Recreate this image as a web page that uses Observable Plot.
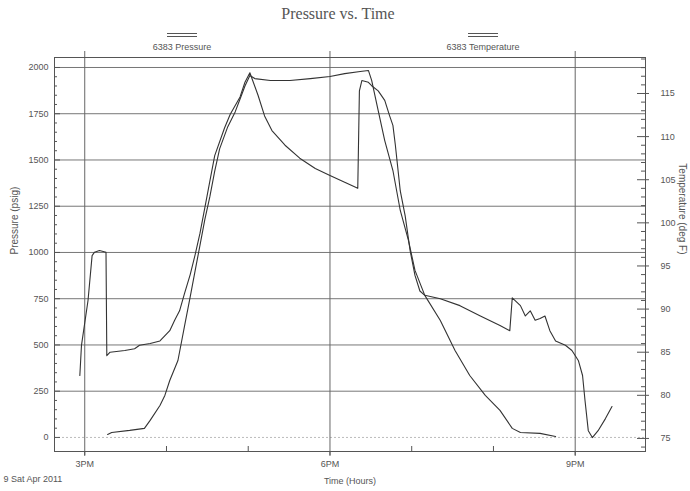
<!DOCTYPE html>
<html><head><meta charset="utf-8">
<script src="https://cdn.jsdelivr.net/npm/d3@7"></script>
<script src="https://cdn.jsdelivr.net/npm/@observablehq/plot@0.6"></script>
<style>
body{margin:0;background:#fff;font-family:"Liberation Sans",Arial,sans-serif;}
#wrap{position:relative;width:690px;height:491px;overflow:hidden;background:#fff}
#head{position:relative;height:52px}
.title{position:absolute;left:0;width:676px;top:5px;text-align:center;font-family:"Liberation Serif",serif;font-size:16px;color:#555;}
.leg{position:absolute;top:33px;font-size:9px;color:#555;text-align:center;width:120px;line-height:10px}
.sym{width:30px;height:2px;border-top:1px solid #555;border-bottom:1px solid #555;margin:0 auto 5px}
#chart svg{display:block}
</style></head>
<body><div id="wrap"><div id="head">
<div class="title">Pressure vs. Time</div>
<div class="leg" style="left:122px"><div class="sym"></div>6383 Pressure</div>
<div class="leg" style="left:423px"><div class="sym"></div>6383 Temperature</div>
</div><div id="chart"></div></div>
<script>
// Time in decimal hours of the day (15 = 3PM)
const presTime  = [15.28,15.33,15.55,15.73,15.80,15.92,15.98,16.04,16.14,16.22,16.29,16.35,16.41,16.47,16.53,16.59,16.65,16.75,16.84,16.90,16.96,17.02,17.08,17.27,17.51,17.76,18.00,18.18,18.37,18.47,18.51,18.59,18.67,18.77,18.86,18.96,19.04,19.16,19.35,19.53,19.71,19.90,20.08,20.23,20.33,20.57,20.76];
const presValue = [16,27,38,49,92,173,227,308,416,600,760,900,1040,1180,1300,1440,1560,1680,1760,1830,1900,1957,1940,1930,1930,1940,1951,1967,1978,1984,1930,1767,1605,1443,1227,1065,903,768,632,470,335,227,146,49,27,22,5];

const tempTime  = [14.94,14.96,15.04,15.09,15.12,15.18,15.26,15.27,15.31,15.49,15.61,15.67,15.80,15.92,16.04,16.10,16.16,16.22,16.29,16.35,16.41,16.47,16.53,16.59,16.71,16.78,16.90,16.96,17.02,17.12,17.20,17.29,17.45,17.63,17.82,18.00,18.18,18.34,18.36,18.39,18.47,18.51,18.59,18.67,18.73,18.77,18.80,18.86,18.92,18.98,19.04,19.10,19.16,19.35,19.59,19.84,20.08,20.20,20.23,20.33,20.39,20.45,20.51,20.57,20.63,20.69,20.76,20.88,20.96,21.04,21.09,21.12,21.16,21.21,21.28,21.37,21.45];
const tempValue = [82.3,85.8,91.0,96.2,96.6,96.8,96.6,84.6,85.0,85.2,85.4,85.8,86.0,86.3,87.5,88.7,89.8,91.8,94.0,96.3,98.8,101.8,104.8,107.8,111.0,112.6,114.6,116.3,117.4,114.8,112.4,110.7,109.0,107.5,106.3,105.5,104.7,104.0,115.3,116.5,116.3,115.9,115.3,114.2,112.4,111.3,109.0,103.7,100.8,96.8,93.9,92.1,91.6,91.2,90.4,89.2,88.1,87.5,91.3,90.4,89.2,89.8,88.7,88.9,89.2,87.5,86.3,85.8,85.2,84.0,82.3,79.4,75.9,75.1,75.9,77.3,78.7];

const pressureTicks = [0,250,500,750,1000,1250,1500,1750,2000];
const tempTicks = [75,80,85,90,95,100,105,110,115];
const xTicks = [15,18,21];
const xTickLabels = ["3PM","6PM","9PM"];
const hourMinor = [16,17,19,20];

// temperature (deg F) placed on the pressure axis (right axis)
const toP = T => -5.4 + (T - 75) * 46.62;
const fromP = p => 75 + (p + 5.4) / 46.62;

const presData = presTime.map((t,i)=>({t, v: presValue[i]}));
const tempData = tempTime.map((t,i)=>({t, v: toP(tempValue[i])}));
const pMinor = d3.range(0, 2001, 50).filter(d => d % 250 !== 0);
const tMinor = d3.range(74, 119.5, 1).filter(d => d % 5 !== 0);

const W=690, H=439, mL=54, mR=45, mT=5, mB=40;
const plotW = W-mL-mR, plotH = H-mT-mB;
const ink = "#555";

const chart = Plot.plot({
  width: W, height: H, marginLeft: mL, marginRight: mR, marginTop: mT, marginBottom: mB,
  x: {domain: [14.63, 21.86]},
  y: {domain: [-76, 2054]},
  style: {fontFamily: "'Liberation Sans', Arial, sans-serif", fontSize: "9px", color: ink, background: "white", overflow: "visible"},
  marks: [
    Plot.ruleY(pressureTicks.filter(d => d > 0), {stroke: "#777", strokeWidth: 1}),
    Plot.ruleY([0], {stroke: "#bbb", strokeDasharray: "2,2"}),
    Plot.ruleX(xTicks, {stroke: "#666", insetTop: -6, insetBottom: -5}),
    Plot.ruleX(hourMinor, {stroke: ink, insetTop: plotH - 5}),
    Plot.ruleY(pMinor, {stroke: ink, insetRight: plotW - 3}),
    Plot.ruleY(pressureTicks, {stroke: ink, insetRight: plotW - 6}),
    Plot.ruleY(tMinor.map(toP), {stroke: ink, insetLeft: plotW - 4}),
    Plot.ruleY(tempTicks.map(toP), {stroke: ink, insetLeft: plotW - 8}),
    Plot.frame({stroke: ink}),
    Plot.axisY(pressureTicks, {anchor: "left", tickSize: 0, tickPadding: 6, tickFormat: d => String(d), label: null}),
    Plot.axisY(tempTicks.map(toP), {anchor: "right", tickSize: 3, tickPadding: 12, tickFormat: p => String(Math.round(fromP(p))), label: null}),
    Plot.axisX(xTicks, {anchor: "bottom", tickSize: 4, tickPadding: 5, tickFormat: d => xTickLabels[xTicks.indexOf(d)], label: null}),
    Plot.line(presData, {x: "t", y: "v", stroke: "#333", strokeWidth: 1.1}),
    Plot.line(tempData, {x: "t", y: "v", stroke: "#333", strokeWidth: 1.1}),
    Plot.text(["Time (Hours)"], {text: d => d, frameAnchor: "bottom", dy: 32}),
    Plot.text(["9 Sat Apr 2011"], {text: d => d, frameAnchor: "bottom-left", dx: -51, dy: 30, textAnchor: "start"}),
    Plot.text(["Pressure (psig)"], {text: d => d, frameAnchor: "left", dx: -40, rotate: -90, fontSize: 10}),
    Plot.text(["Temperature (deg F)"], {text: d => d, frameAnchor: "right", dx: 37, rotate: 90, fontSize: 10})
  ]
});
document.getElementById("chart").appendChild(chart);
</script>
</body></html>
